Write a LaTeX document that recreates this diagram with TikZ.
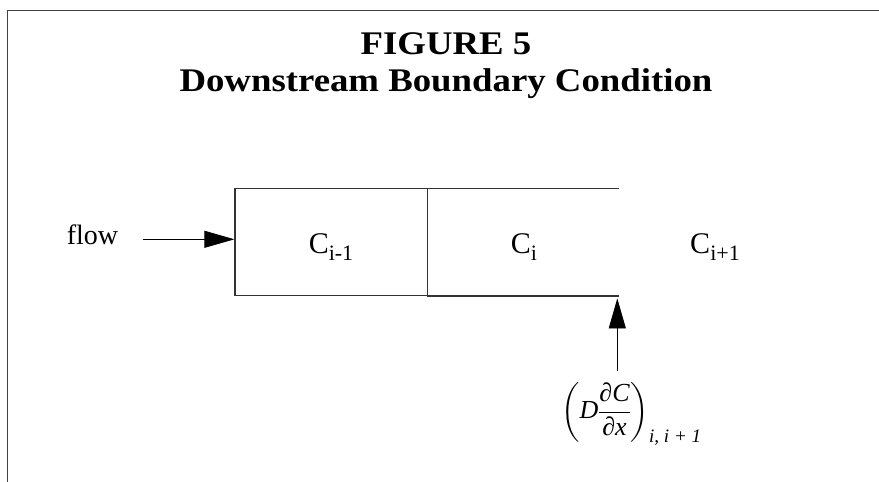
\documentclass[tikz,border=0pt]{standalone}
\usepackage{amsmath}
\usepackage{fontspec}
\setmainfont{Liberation Serif}
\newfontfamily\headfont[FakeStretch=1.115]{Liberation Serif}
\usetikzlibrary{arrows.meta}
\newcommand{\itx}[1]{\text{\itshape #1}}
\newcommand{\subx}[1]{\text{\fontsize{19}{19}\selectfont\itshape #1}}
\begin{document}
\begin{tikzpicture}[x=1pt,y=-1pt,
  frameline/.style={line width=1.2pt, draw=black!75},
  cellbox/.style={draw=black!80, line width=1.2pt, inner sep=0pt},
  flowarrow/.style={line width=0.8pt, -{Triangle[length=30pt,width=17pt]}},
  headtext/.style={inner sep=0pt, anchor=base, font=\headfont\bfseries\fontsize{33}{33}\selectfont},
  lbl/.style={inner sep=0pt, anchor=base, font=\fontsize{30}{30}\selectfont}]
\useasboundingbox (0,0) rectangle (879,482);

% outer frame (left and top edges only)
\coordinate (fbl) at (7.3,482);
\coordinate (ftl) at (7.3,10.7);
\coordinate (ftr) at (879,10.7);
\draw[frameline] (fbl) -- (ftl) -- (ftr);

% heading
\node[headtext] (t1) at (446,54) {FIGURE 5};
\node[headtext] (t2) at (446,91) {Downstream Boundary Condition};

% cells
\node[cellbox, minimum width=192.3pt, minimum height=107.4pt] (c1) at (331.15,242) {};
\node[inner sep=0pt, minimum width=191.7pt, minimum height=107.4pt] (c2) at (523.15,242) {};
\draw[cellbox] (c2.north west) -- (c2.north east);
\draw[cellbox] (c2.south west) -- (c2.south east);

% cell labels
\node[lbl] (l1) at (331,253) {C\raisebox{-7.5pt}{\fontsize{22}{22}\selectfont i-1}};
\node[lbl] (l2) at (524,253) {C\raisebox{-7.5pt}{\fontsize{22}{22}\selectfont i}};
\node[lbl] (l3) at (715,253) {C\raisebox{-7.5pt}{\fontsize{22}{22}\selectfont i+1}};

% inflow
\node[lbl, font=\fontsize{28}{28}\selectfont] (flow) at (92.5,244) {flow};
\coordinate (fa) at (142.7,239.3);
\draw[flowarrow] (fa) -- (c1.west |- fa);

% dispersive flux at the downstream face
\node[inner sep=0pt, anchor=north west, font=\fontsize{26}{26}\selectfont] (dflux) at (561,382)
  {$\left(\itx{D}\dfrac{\itx{∂C}}{\itx{∂x}}\right)_{\subx{i, i + 1}}$};
\coordinate (fb) at (617.3,370.7);
\draw[flowarrow, shorten >=2.5pt] (fb) -- (fb |- c2.south);
\end{tikzpicture}
\end{document}
